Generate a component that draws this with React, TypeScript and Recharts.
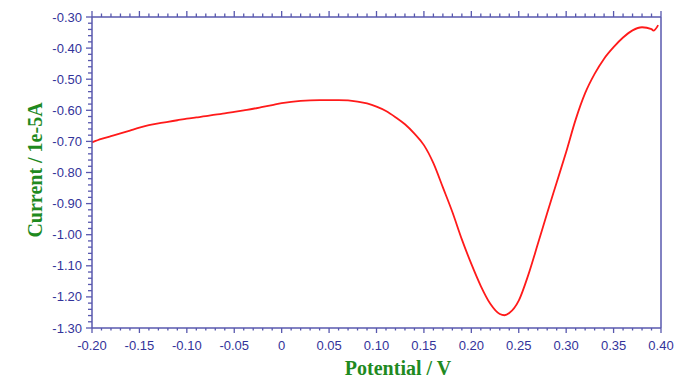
import React from "react";
import { LineChart, Line, XAxis, YAxis } from "recharts";

const potential = [
  -0.2, -0.19, -0.18, -0.17, -0.16, -0.15, -0.14, -0.13, -0.12, -0.11, -0.1, -0.09, -0.08, -0.07, -0.06,
  -0.05, -0.04, -0.03, -0.02, -0.01, 0.0, 0.01, 0.02, 0.03, 0.04, 0.05, 0.06, 0.07, 0.08, 0.09, 0.1,
  0.11, 0.12, 0.13, 0.14, 0.15, 0.16, 0.17, 0.18, 0.19, 0.2, 0.21, 0.22, 0.23, 0.235, 0.24, 0.25, 0.26,
  0.27, 0.28, 0.29, 0.3, 0.31, 0.32, 0.33, 0.34, 0.35, 0.36, 0.37, 0.38, 0.39, 0.392, 0.397,
];
const current = [
  -0.703, -0.692, -0.683, -0.674, -0.665, -0.656, -0.648, -0.642, -0.637, -0.632, -0.627, -0.623, -0.619,
  -0.614, -0.61, -0.605, -0.6, -0.595, -0.589, -0.583, -0.577, -0.573, -0.57, -0.568, -0.567, -0.567,
  -0.567, -0.568, -0.572, -0.578, -0.588, -0.602, -0.622, -0.645, -0.675, -0.712, -0.77, -0.848, -0.927,
  -1.015, -1.094, -1.165, -1.222, -1.255, -1.259, -1.252, -1.212, -1.13, -1.031, -0.93, -0.832, -0.734,
  -0.63, -0.545, -0.483, -0.434, -0.397, -0.366, -0.343, -0.333, -0.339, -0.344, -0.326,
];

const xMajorTicks = [-0.2, -0.15, -0.1, -0.05, 0, 0.05, 0.1, 0.15, 0.2, 0.25, 0.3, 0.35, 0.4];
const xTickLabels = ["-0.20", "-0.15", "-0.10", "-0.05", "0", "0.05", "0.10", "0.15", "0.20", "0.25", "0.30", "0.35", "0.40"];
const yMajorTicks = [-1.3, -1.2, -1.1, -1.0, -0.9, -0.8, -0.7, -0.6, -0.5, -0.4, -0.3];
const yTickLabels = ["-1.30", "-1.20", "-1.10", "-1.00", "-0.90", "-0.80", "-0.70", "-0.60", "-0.50", "-0.40", "-0.30"];

const X_MINOR_PER_MAJOR = 5;
const Y_MINOR_PER_MAJOR = 5;

const data = potential.map((v, i) => ({ v, i: current[i] }));

function withMinor(majors: number[], n: number): number[] {
  const out: number[] = [];
  for (let k = 0; k < majors.length - 1; k++) {
    const a = majors[k];
    const b = majors[k + 1];
    for (let j = 0; j < n; j++) out.push(+(a + ((b - a) * j) / n).toFixed(4));
  }
  out.push(majors[majors.length - 1]);
  return out;
}

const xTicks = withMinor(xMajorTicks, X_MINOR_PER_MAJOR);
const yTicks = withMinor(yMajorTicks, Y_MINOR_PER_MAJOR);

const AXIS = "#5858ae";
const LABEL = "#33339a";
const TITLE = "#1f8a1f";
const FONT = "'Liberation Sans', Arial, sans-serif";

function majorIndex(arr: number[], v: number) {
  return arr.findIndex((m) => Math.abs(m - v) < 1e-6);
}

const BottomTick = (props: any) => {
  const { x, y, payload } = props;
  const idx = majorIndex(xMajorTicks, payload.value);
  const major = idx >= 0;
  return (
    <g>
      <line x1={x} y1={y} x2={x} y2={y + (major ? 5 : 2.5)} stroke={AXIS} strokeWidth={1.3} />
      {major && (
        <text x={x} y={y + 22} textAnchor="middle" fontSize={13} fontFamily={FONT} fill={LABEL}>
          {xTickLabels[idx]}
        </text>
      )}
    </g>
  );
};

const TopTick = (props: any) => {
  const { x, y, payload } = props;
  const major = majorIndex(xMajorTicks, payload.value) >= 0;
  return <line x1={x} y1={y} x2={x} y2={y - (major ? 6 : 3.5)} stroke={AXIS} strokeWidth={1.3} />;
};

const LeftTick = (props: any) => {
  const { x, y, payload } = props;
  const idx = majorIndex(yMajorTicks, payload.value);
  const major = idx >= 0;
  return (
    <g>
      <line x1={x - (major ? 6 : 4)} y1={y} x2={x} y2={y} stroke={AXIS} strokeWidth={1.3} />
      {major && (
        <text x={x - 10} y={y + 4.5} textAnchor="end" fontSize={13} fontFamily={FONT} fill={LABEL}>
          {yTickLabels[idx]}
        </text>
      )}
    </g>
  );
};

const RightTick = (props: any) => {
  const { x, y, payload } = props;
  const major = majorIndex(yMajorTicks, payload.value) >= 0;
  return <line x1={x} y1={y} x2={x + (major ? 5 : 3)} y2={y} stroke={AXIS} strokeWidth={1.3} />;
};

export default function App() {
  return (
    <div style={{ position: "absolute", left: 0, top: 0, width: 688, height: 378, background: "#fff" }}>
      <LineChart width={688} height={378} data={data} margin={{ top: 7, right: 17, bottom: 20, left: 32 }}>
        <XAxis
          xAxisId="b"
          dataKey="v"
          type="number"
          domain={[-0.2, 0.4]}
          ticks={xTicks}
          interval={0}
          orientation="bottom"
          height={30}
          tickSize={0}
          tickMargin={0}
          tick={BottomTick}
          tickLine={false}
          axisLine={{ stroke: AXIS, strokeWidth: 1.5 }}
        />
        <XAxis
          xAxisId="t"
          dataKey="v"
          type="number"
          domain={[-0.2, 0.4]}
          ticks={xTicks}
          interval={0}
          orientation="top"
          height={10}
          tickSize={0}
          tickMargin={0}
          tick={TopTick}
          tickLine={false}
          axisLine={{ stroke: AXIS, strokeWidth: 1.5 }}
        />
        <YAxis
          yAxisId="l"
          type="number"
          domain={[-1.3, -0.3]}
          ticks={yTicks}
          interval={0}
          orientation="left"
          width={60}
          tickSize={0}
          tickMargin={0}
          tick={LeftTick}
          tickLine={false}
          axisLine={{ stroke: AXIS, strokeWidth: 1.5 }}
        />
        <YAxis
          yAxisId="r"
          type="number"
          domain={[-1.3, -0.3]}
          ticks={yTicks}
          interval={0}
          orientation="right"
          width={10}
          tickSize={0}
          tickMargin={0}
          tick={RightTick}
          tickLine={false}
          axisLine={{ stroke: AXIS, strokeWidth: 1.5 }}
        />
        <Line
          xAxisId="b"
          yAxisId="l"
          dataKey="i"
          type="monotone"
          stroke="#ff1a1a"
          strokeWidth={1.8}
          dot={false}
          isAnimationActive={false}
        />
      </LineChart>
      <svg width={688} height={378} style={{ position: "absolute", left: 0, top: 0, pointerEvents: "none" }}>
        <text
          x={0}
          y={0}
          transform="translate(42,170) rotate(-90)"
          textAnchor="middle"
          fontFamily="'Liberation Serif', 'Times New Roman', serif"
          fontWeight="bold"
          fontSize={20}
          fill={TITLE}
        >
          Current / 1e-5A
        </text>
        <text
          x={398}
          y={375}
          textAnchor="middle"
          fontFamily="'Liberation Serif', 'Times New Roman', serif"
          fontWeight="bold"
          fontSize={20}
          fill={TITLE}
        >
          Potential / V
        </text>
      </svg>
    </div>
  );
}
